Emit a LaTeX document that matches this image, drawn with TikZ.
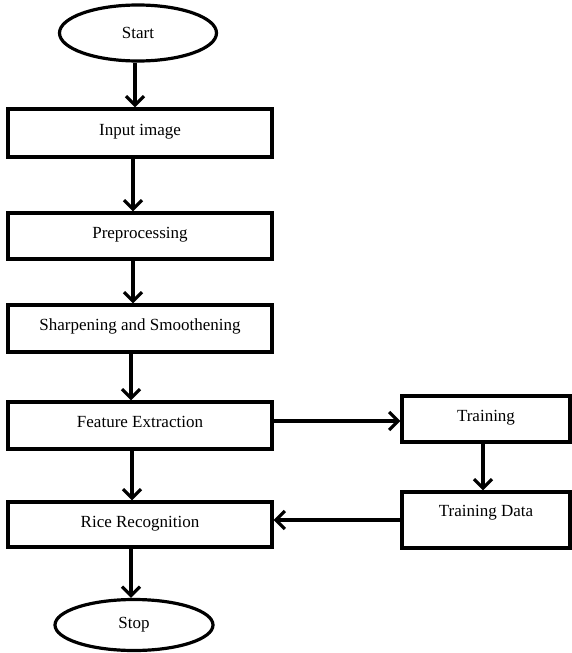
\documentclass[tikz,border=0pt]{standalone}
\usepackage{fontspec}
\setmainfont{Liberation Serif}
\usetikzlibrary{arrows.meta,shapes.geometric}
\begin{document}
\begin{tikzpicture}[x=1pt,y=-1pt,
  every node/.style={font=\fontsize{17}{20}\selectfont, text=black},
  boxnode/.style={draw, line width=3.2pt, rectangle, inner sep=0pt, anchor=center},
  ovalnode/.style={draw, line width=3.2pt, ellipse, inner sep=0pt, anchor=center},
  arr/.style={line width=3.2pt, -{Straight Barb[length=9pt,width=18pt,line width=3.2pt]}}
]
\useasboundingbox (0,0) rectangle (571,653);
\node[ovalnode, minimum width=157pt, minimum height=56pt] (start) at (138,33) {Start};
\node[boxnode, minimum width=264pt, minimum height=48pt, text depth=6pt] (inp) at (140,133) {Input image};
\node[boxnode, minimum width=264pt, minimum height=46pt, text depth=7pt] (pre) at (140,236) {Preprocessing};
\node[boxnode, minimum width=264pt, minimum height=47pt, text depth=7pt] (sharp) at (140,328.5) {Sharpening and Smoothening};
\node[boxnode, minimum width=264pt, minimum height=47pt, text depth=7pt] (feat) at (140,425.5) {Feature Extraction};
\node[boxnode, minimum width=264pt, minimum height=45pt, text depth=6pt] (rice) at (140,524.5) {Rice Recognition};
\node[ovalnode, minimum width=158pt, minimum height=51pt] (stop) at (134,625) {Stop};
\node[boxnode, minimum width=168pt, minimum height=46pt, text depth=7pt] (train) at (486,419) {Training};
\node[boxnode, minimum width=168pt, minimum height=56pt, text depth=19pt] (tdata) at (486,520) {Training Data};

\draw[arr] ([xshift=-3pt]start.south) -- ([xshift=-5pt]inp.north);
\draw[arr] ([xshift=-7pt]inp.south) -- ([xshift=-7pt]pre.north);
\draw[arr] ([xshift=-7pt]pre.south) -- ([xshift=-7pt]sharp.north);
\draw[arr] ([xshift=-9pt]sharp.south) -- ([xshift=-9pt]feat.north);
\draw[arr] ([xshift=-8pt]feat.south) -- ([xshift=-8pt]rice.north);
\draw[arr] ([xshift=-9pt]rice.south) -- ([xshift=-3pt]stop.north);
\draw[arr] ([yshift=4.5pt]feat.east) -- ([yshift=-2pt]train.west);
\draw[arr] ([xshift=-3pt]train.south) -- ([xshift=-3pt]tdata.north);
\draw[arr] (tdata.west) -- ([yshift=4.5pt]rice.east);
\end{tikzpicture}
\end{document}
